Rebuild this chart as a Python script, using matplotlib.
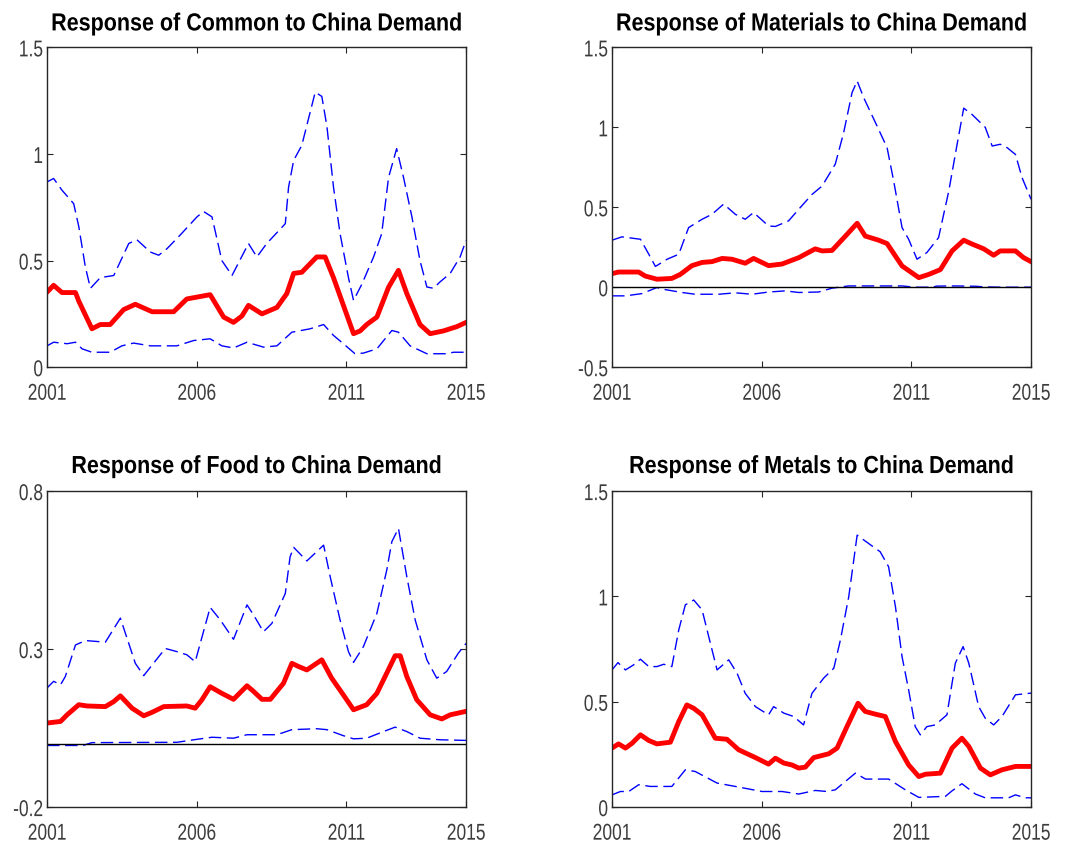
import matplotlib
matplotlib.use("Agg")
import matplotlib.pyplot as plt
from matplotlib import patheffects
from matplotlib.transforms import Affine2D

plt.rcParams["font.family"] = ["Liberation Sans", "DejaVu Sans"]

# ---- Common ----
common_resp_x = [2001.00, 2001.22, 2001.50, 2001.95, 2002.06, 2002.50, 2002.78, 2003.11, 2003.56, 2003.95,
                 2004.51, 2005.23, 2005.67, 2006.45, 2006.90, 2007.23, 2007.51, 2007.73, 2008.18, 2008.68,
                 2009.01, 2009.24, 2009.51, 2010.01, 2010.29, 2010.57, 2011.24, 2011.46, 2011.68, 2012.02,
                 2012.41, 2012.74, 2013.02, 2013.46, 2013.80, 2014.24, 2014.69, 2015.00]
common_resp_y = [0.352, 0.384, 0.35, 0.35, 0.31, 0.18, 0.20, 0.20, 0.27, 0.295,
                 0.26, 0.26, 0.32, 0.34, 0.235, 0.21, 0.24, 0.29, 0.25, 0.28,
                 0.345, 0.44, 0.445, 0.517, 0.517, 0.42, 0.157, 0.17, 0.20, 0.235,
                 0.375, 0.454, 0.345, 0.20, 0.157, 0.17, 0.19, 0.21]
common_up_x = [2001.00, 2001.22, 2001.50, 2001.89, 2002.06, 2002.28, 2002.45, 2002.78, 2003.23, 2003.73,
               2004.00, 2004.45, 2004.73, 2005.01, 2005.45, 2006.01, 2006.23, 2006.51, 2006.84, 2007.18,
               2007.73, 2008.01, 2008.34, 2008.96, 2009.07, 2009.24, 2009.51, 2009.96, 2010.18, 2010.35,
               2010.57, 2010.79, 2011.07, 2011.24, 2011.52, 2011.91, 2012.18, 2012.41, 2012.68, 2012.91,
               2013.19, 2013.46, 2013.69, 2013.91, 2014.13, 2014.47, 2014.80, 2015.00]
common_up_y = [0.869, 0.885, 0.83, 0.767, 0.66, 0.47, 0.37, 0.42, 0.43, 0.58,
               0.598, 0.54, 0.525, 0.556, 0.62, 0.705, 0.73, 0.705, 0.50, 0.43,
               0.58, 0.517, 0.58, 0.673, 0.845, 0.97, 1.04, 1.29, 1.27, 1.13,
               0.845, 0.626, 0.42, 0.313, 0.39, 0.517, 0.626, 0.89, 1.025, 0.89,
               0.705, 0.50, 0.376, 0.37, 0.40, 0.44, 0.517, 0.595]
common_lo_x = [2001.00, 2001.22, 2001.67, 2001.95, 2002.17, 2002.50, 2003.11, 2003.50, 2003.89, 2004.45,
               2005.34, 2005.90, 2006.45, 2006.84, 2007.23, 2007.68, 2008.23, 2008.68, 2009.18, 2009.79,
               2010.24, 2010.57, 2010.90, 2011.29, 2011.57, 2012.02, 2012.52, 2012.74, 2013.13, 2013.69,
               2014.35, 2014.58, 2015.00]
common_lo_y = [0.10, 0.117, 0.11, 0.117, 0.086, 0.07, 0.07, 0.10, 0.113, 0.10,
               0.10, 0.125, 0.133, 0.10, 0.09, 0.117, 0.094, 0.10, 0.164, 0.18,
               0.20, 0.149, 0.11, 0.063, 0.066, 0.086, 0.172, 0.164, 0.10, 0.063,
               0.063, 0.07, 0.07]

# ---- Materials ----
mat_resp_x = [2001.00, 2001.22, 2001.89, 2002.11, 2002.50, 2003.00, 2003.28, 2003.67, 2004.01, 2004.34,
              2004.68, 2005.01, 2005.45, 2005.73, 2006.23, 2006.68, 2007.24, 2007.79, 2008.02, 2008.35,
              2008.80, 2009.19, 2009.46, 2009.91, 2010.19, 2010.69, 2011.25, 2011.58, 2011.97, 2012.36,
              2012.75, 2013.03, 2013.42, 2013.75, 2013.97, 2014.48, 2014.75, 2015.00]
mat_resp_y = [0.085, 0.095, 0.095, 0.07, 0.05, 0.055, 0.08, 0.135, 0.155, 0.16,
              0.18, 0.175, 0.15, 0.18, 0.135, 0.145, 0.185, 0.24, 0.227, 0.23,
              0.32, 0.40, 0.32, 0.294, 0.273, 0.133, 0.06, 0.08, 0.11, 0.227,
              0.294, 0.27, 0.24, 0.20, 0.227, 0.227, 0.185, 0.16]
mat_up_x = [2001.00, 2001.33, 2001.95, 2002.23, 2002.45, 2002.84, 2003.23, 2003.56, 2004.01, 2004.34,
            2004.73, 2005.12, 2005.45, 2005.73, 2006.23, 2006.46, 2006.90, 2007.24, 2007.68, 2008.02,
            2008.46, 2008.74, 2009.02, 2009.19, 2009.41, 2009.85, 2010.19, 2010.41, 2010.69, 2010.91,
            2011.19, 2011.52, 2011.91, 2012.25, 2012.53, 2012.75, 2013.03, 2013.47, 2013.70, 2013.97,
            2014.20, 2014.48, 2014.70, 2015.00]
mat_up_y = [0.294, 0.315, 0.30, 0.206, 0.13, 0.175, 0.206, 0.373, 0.425, 0.456,
            0.52, 0.456, 0.425, 0.467, 0.383, 0.38, 0.415, 0.488, 0.58, 0.633,
            0.77, 0.967, 1.217, 1.29, 1.185, 1.01, 0.873, 0.665, 0.373, 0.30,
            0.175, 0.217, 0.31, 0.60, 0.894, 1.12, 1.08, 1.0, 0.883, 0.894,
            0.873, 0.83, 0.685, 0.55]
mat_lo_x = [2001.00, 2001.45, 2002.00, 2002.50, 2002.78, 2003.34, 2003.78, 2004.56, 2005.12, 2005.68,
            2006.23, 2006.79, 2007.24, 2007.90, 2008.35, 2008.90, 2009.58, 2010.24, 2010.69, 2011.13,
            2011.70, 2011.85, 2012.47, 2013.14, 2013.45, 2014.00, 2015.00]
mat_lo_y = [-0.054, -0.054, -0.04, -0.002, -0.015, -0.033, -0.044, -0.044, -0.035, -0.044,
            -0.03, -0.023, -0.033, -0.03, -0.006, 0.008, 0.008, 0.008, 0.008, 0.0,
            0.0, 0.007, 0.008, 0.006, 0.002, 0.0, 0.0]

# ---- Food ----
food_resp_x = [2001.00, 2001.45, 2001.67, 2002.06, 2002.34, 2002.95, 2003.23, 2003.45, 2003.84, 2004.23,
               2004.51, 2004.90, 2005.67, 2005.95, 2006.17, 2006.45, 2006.84, 2007.23, 2007.68, 2007.90,
               2008.18, 2008.46, 2008.90, 2009.18, 2009.40, 2009.68, 2010.18, 2010.51, 2010.90, 2011.24,
               2011.68, 2012.02, 2012.35, 2012.63, 2012.80, 2013.02, 2013.35, 2013.80, 2014.19, 2014.47,
               2015.00]
food_resp_y = [0.066, 0.071, 0.092, 0.124, 0.12, 0.118, 0.134, 0.152, 0.113, 0.089,
               0.10, 0.118, 0.12, 0.113, 0.139, 0.181, 0.16, 0.141, 0.184, 0.166,
               0.141, 0.141, 0.192, 0.255, 0.245, 0.234, 0.266, 0.208, 0.155, 0.108,
               0.124, 0.16, 0.224, 0.279, 0.279, 0.213, 0.14, 0.092, 0.079, 0.092,
               0.103]
food_up_x = [2001.00, 2001.22, 2001.45, 2001.61, 2001.95, 2002.28, 2002.95, 2003.45, 2003.73, 2003.95,
             2004.23, 2004.95, 2005.34, 2005.67, 2005.95, 2006.45, 2006.79, 2007.23, 2007.68, 2007.90,
             2008.23, 2008.51, 2008.96, 2009.12, 2009.24, 2009.68, 2010.24, 2010.46, 2010.79, 2011.07,
             2011.24, 2011.57, 2012.02, 2012.35, 2012.52, 2012.74, 2013.02, 2013.30, 2013.69, 2014.02,
             2014.35, 2014.74, 2015.00]
food_up_y = [0.177, 0.198, 0.187, 0.213, 0.313, 0.327, 0.322, 0.398, 0.318, 0.255,
             0.216, 0.302, 0.292, 0.282, 0.26, 0.432, 0.392, 0.331, 0.44, 0.408,
             0.355, 0.381, 0.476, 0.592, 0.622, 0.579, 0.629, 0.529, 0.392, 0.292,
             0.258, 0.308, 0.413, 0.55, 0.64, 0.682, 0.529, 0.392, 0.266, 0.208,
             0.229, 0.287, 0.318]
food_lo_x = [2001.00, 2002.20, 2002.50, 2005.34, 2005.90, 2006.51, 2007.23, 2007.68, 2008.68, 2009.18,
             2010.01, 2010.35, 2010.90, 2011.24, 2011.68, 2012.24, 2012.63, 2013.02, 2013.46, 2014.13,
             2015.00]
food_lo_y = [-0.005, -0.005, 0.004, 0.005, 0.013, 0.021, 0.018, 0.029, 0.029, 0.045,
             0.048, 0.045, 0.026, 0.016, 0.018, 0.039, 0.053, 0.039, 0.018, 0.013,
             0.011]

# ---- Metals ----
met_resp_x = [2001.00, 2001.22, 2001.45, 2001.67, 2001.95, 2002.23, 2002.50, 2002.95, 2003.23, 2003.50,
              2003.73, 2004.01, 2004.45, 2004.84, 2005.23, 2005.79, 2006.23, 2006.46, 2006.74, 2007.01,
              2007.24, 2007.46, 2007.74, 2008.24, 2008.52, 2008.85, 2009.22, 2009.46, 2009.80, 2010.13,
              2010.47, 2010.91, 2011.25, 2011.47, 2011.97, 2012.36, 2012.69, 2012.92, 2013.31, 2013.64,
              2014.03, 2014.48, 2015.00]
met_resp_y = [0.28, 0.30, 0.28, 0.303, 0.343, 0.316, 0.30, 0.308, 0.406, 0.485,
              0.469, 0.438, 0.327, 0.322, 0.272, 0.235, 0.204, 0.232, 0.209, 0.20,
              0.185, 0.19, 0.235, 0.253, 0.28, 0.382, 0.493, 0.454, 0.441, 0.43,
              0.311, 0.20, 0.145, 0.156, 0.161, 0.28, 0.327, 0.288, 0.185, 0.153,
              0.177, 0.193, 0.193]
met_up_x = [2001.00, 2001.20, 2001.45, 2001.72, 2001.95, 2002.23, 2002.50, 2002.73, 2003.00, 2003.23,
            2003.45, 2003.73, 2004.01, 2004.23, 2004.51, 2004.90, 2005.18, 2005.45, 2005.79, 2006.23,
            2006.40, 2006.74, 2007.07, 2007.40, 2007.68, 2008.07, 2008.41, 2008.63, 2008.91, 2009.19,
            2009.41, 2009.96, 2010.24, 2010.47, 2010.69, 2010.91, 2011.13, 2011.30, 2011.52, 2011.80,
            2012.19, 2012.47, 2012.73, 2012.92, 2013.25, 2013.47, 2013.75, 2014.03, 2014.48, 2015.00]
met_up_y = [0.651, 0.686, 0.651, 0.675, 0.702, 0.667, 0.667, 0.678, 0.667, 0.841,
            0.96, 0.983, 0.936, 0.81, 0.651, 0.699, 0.635, 0.54, 0.477, 0.438,
            0.477, 0.446, 0.43, 0.39, 0.54, 0.612, 0.659, 0.793, 0.999, 1.291,
            1.268, 1.212, 1.141, 0.951, 0.714, 0.556, 0.382, 0.343, 0.382, 0.39,
            0.438, 0.683, 0.762, 0.683, 0.477, 0.422, 0.39, 0.43, 0.533, 0.541]
met_lo_x = [2001.00, 2001.28, 2001.56, 2001.89, 2002.28, 2003.00, 2003.45, 2003.78, 2004.51, 2005.12,
            2006.01, 2006.68, 2007.24, 2007.79, 2008.18, 2008.46, 2009.13, 2009.47, 2010.24, 2010.80,
            2011.25, 2012.14, 2012.36, 2012.69, 2013.14, 2013.47, 2014.25, 2014.48, 2014.80, 2015.00]
met_lo_y = [0.058, 0.074, 0.074, 0.106, 0.098, 0.098, 0.177, 0.169, 0.114, 0.098,
            0.074, 0.074, 0.062, 0.079, 0.074, 0.082, 0.161, 0.133, 0.133, 0.082,
            0.046, 0.051, 0.077, 0.111, 0.062, 0.044, 0.044, 0.058, 0.044, 0.044]

year_ticks = [2001, 2006, 2011, 2015]
year_labels = ["2001", "2006", "2011", "2015"]

panels = [
    dict(title="Response of Common to China Demand", ylim=(0, 1.5),
         yticks=[0, 0.5, 1, 1.5], ylabels=["0", "0.5", "1", "1.5"], zero=False,
         resp=(common_resp_x, common_resp_y), up=(common_up_x, common_up_y), lo=(common_lo_x, common_lo_y),
         rect=[0.044, 0.566, 0.392, 0.378], pad=12.2),
    dict(title="Response of Materials to China Demand", ylim=(-0.5, 1.5),
         yticks=[-0.5, 0, 0.5, 1, 1.5], ylabels=["-0.5", "0", "0.5", "1", "1.5"], zero=True,
         resp=(mat_resp_x, mat_resp_y), up=(mat_up_x, mat_up_y), lo=(mat_lo_x, mat_lo_y),
         rect=[0.5725, 0.566, 0.392, 0.378], pad=12.2),
    dict(title="Response of Food to China Demand", ylim=(-0.2, 0.8),
         yticks=[-0.2, 0.3, 0.8], ylabels=["-0.2", "0.3", "0.8"], zero=True,
         resp=(food_resp_x, food_resp_y), up=(food_up_x, food_up_y), lo=(food_lo_x, food_lo_y),
         rect=[0.044, 0.046, 0.392, 0.3735], pad=13.0),
    dict(title="Response of Metals to China Demand", ylim=(0, 1.5),
         yticks=[0, 0.5, 1, 1.5], ylabels=["0", "0.5", "1", "1.5"], zero=False,
         resp=(met_resp_x, met_resp_y), up=(met_up_x, met_up_y), lo=(met_lo_x, met_lo_y),
         rect=[0.5725, 0.046, 0.392, 0.3735], pad=13.0),
]


class Squeeze(patheffects.AbstractPathEffect):
    """Narrow the text horizontally (the source figure was rendered condensed)."""

    def __init__(self, sx, anchor="center"):
        super().__init__()
        self.sx = sx
        self.anchor = anchor

    def draw_path(self, renderer, gc, tpath, affine, rgbFace=None):
        ext = tpath.get_extents(affine)
        cx = ext.x1 if self.anchor == "right" else 0.5 * (ext.x0 + ext.x1)
        t = affine + Affine2D().translate(-cx, 0).scale(self.sx, 1).translate(cx, 0)
        renderer.draw_path(gc, tpath, t, rgbFace)


fig = plt.figure(figsize=(10.69, 8.46), dpi=100)

for p in panels:
    ax = fig.add_axes(p["rect"])
    dash = (0, (9, 4))
    ax.plot(*p["up"], color="blue", lw=1.0, linestyle=dash)
    ax.plot(*p["lo"], color="blue", lw=1.0, linestyle=dash)
    ax.plot(*p["resp"], color="red", lw=3.5)
    if p["zero"]:
        ax.axhline(0, color="black", lw=1.0)
    ax.set_xlim(2001, 2015)
    ax.set_ylim(*p["ylim"])
    ax.set_xticks(year_ticks)
    ax.set_xticklabels(year_labels)
    ax.set_yticks(p["yticks"])
    ax.set_yticklabels(p["ylabels"])
    ax.tick_params(direction="in", top=True, right=True, length=4, width=0.8,
                   color="#262626", labelcolor="#3c3c3c", labelsize=16.5)
    ax.tick_params(axis="x", pad=10.5)
    ax.tick_params(axis="y", pad=2.7)
    for lab in ax.get_xticklabels():
        lab.set_path_effects([Squeeze(0.76, "center")])
    for lab in ax.get_yticklabels():
        lab.set_path_effects([Squeeze(0.76, "right")])
    for s in ax.spines.values():
        s.set_color("#262626")
        s.set_linewidth(1.0)
    t = ax.set_title(p["title"], fontsize=17.8, fontweight="bold", pad=p["pad"], color="black")
    t.set_path_effects([Squeeze(0.87, "center")])

fig.savefig("out.png", dpi=100)
